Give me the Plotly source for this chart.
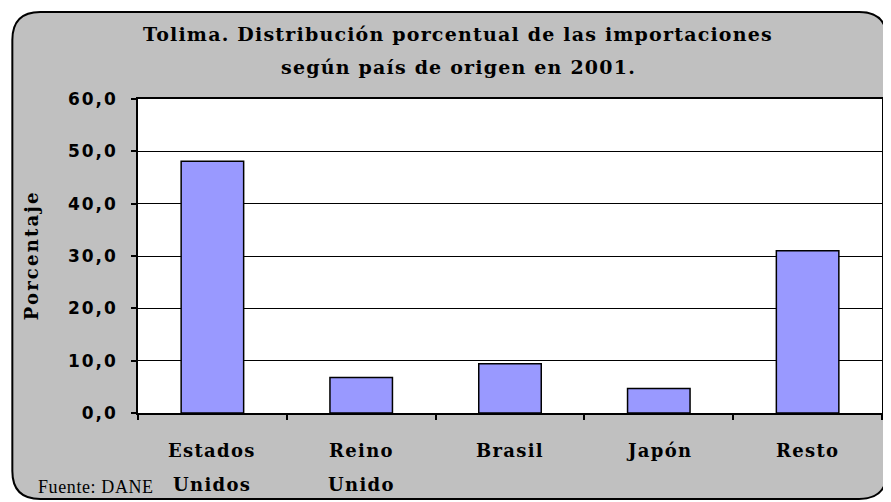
import plotly.graph_objects as go

categories = ["Estados Unidos", "Reino Unido", "Brasil", "Japón", "Resto"]
values = [48.1, 6.8, 9.4, 4.7, 31.0]
y_ticks = [0, 10, 20, 30, 40, 50, 60]
y_tick_labels = ["0,0", "10,0", "20,0", "30,0", "40,0", "50,0", "60,0"]
title_lines = ["Tolima. Distribución porcentual de las importaciones",
               "según país de origen en 2001."]
source_text = "Fuente: DANE"
y_title = "Porcentaje"

OFF = 8  # page body margin
W, H = 891 - OFF, 502 - OFF
L, R, T, B = 138 - OFF, 7, 99 - OFF, 89
PW, PH = W - L - R, H - T - B


def px(x):
    return (x - OFF - L) / PW


def py(y):
    return (H - B - (y - OFF)) / PH


def spaced(text, sp, bold=True):
    t = f"<span style='letter-spacing:{sp}px'>{text}</span>"
    return f"<b>{t}</b>" if bold else t


# rounded outer frame (screen pixel coords -> paper coords)
x0, y0, x1, y1, r = 12, 12, 889, 499, 28
path = (
    f"M {px(x0 + r)},{py(y0)} L {px(x1 - r)},{py(y0)} "
    f"Q {px(x1)},{py(y0)} {px(x1)},{py(y0 + r)} "
    f"L {px(x1)},{py(y1 - r)} Q {px(x1)},{py(y1)} {px(x1 - r)},{py(y1)} "
    f"L {px(x0 + r)},{py(y1)} Q {px(x0)},{py(y1)} {px(x0)},{py(y1 - r)} "
    f"L {px(x0)},{py(y0 + r)} Q {px(x0)},{py(y0)} {px(x0 + r)},{py(y0)} Z"
)

fig = go.Figure()
fig.add_trace(go.Bar(
    x=categories, y=values,
    marker=dict(color="#9999ff", line=dict(color="black", width=1.5)),
    width=0.42,
))

serif = "DejaVu Serif"
annotations = []
title_y = [34, 67]
for line, yy in zip(title_lines, title_y):
    annotations.append(dict(
        text=spaced(line, 1.2), x=px(459), y=py(yy), xref="paper", yref="paper",
        showarrow=False, xanchor="center", yanchor="middle",
        font=dict(family=serif, size=19, color="black"),
    ))
for cat in categories:
    words = cat.split(" ")
    for i, w in enumerate(words):
        annotations.append(dict(
            text=spaced(w, 1.3), x=cat, y=py(450 + 34 * i), xref="x", yref="paper",
            showarrow=False, xanchor="center", yanchor="middle",
            font=dict(family=serif, size=18, color="black"),
        ))
annotations.append(dict(
    text=spaced(y_title, 2.2), x=px(31), y=py(255), xref="paper", yref="paper",
    showarrow=False, textangle=-90, xanchor="center", yanchor="middle",
    font=dict(family=serif, size=18, color="black"),
))
annotations.append(dict(
    text=spaced(source_text, 0.6, bold=False), x=px(36), y=py(487),
    xref="paper", yref="paper",
    showarrow=False, xanchor="left", yanchor="middle",
    font=dict(family="Liberation Serif", size=18, color="black"),
))

fig.update_layout(
    width=W, height=H,
    margin=dict(l=L, r=R, t=T, b=B, pad=0),
    paper_bgcolor="white",
    plot_bgcolor="white",
    showlegend=False,
    annotations=annotations,
    shapes=[
        dict(type="path", path=path, xref="paper", yref="paper", layer="below",
             fillcolor="#c0c0c0", line=dict(color="black", width=2)),
        dict(type="rect", x0=0, x1=1, y0=0, y1=1, xref="paper", yref="paper",
             layer="below", fillcolor="white", line=dict(width=0)),
    ],
    xaxis=dict(
        type="category", showticklabels=False, showgrid=False,
        showline=True, linecolor="black", linewidth=1.5, mirror=True,
        ticks="outside", tickson="boundaries", ticklen=5, tickcolor="black",
        tickwidth=1.5, fixedrange=True,
    ),
    yaxis=dict(
        range=[0, 60], tickvals=y_ticks,
        ticktext=[spaced(t, 2) for t in y_tick_labels],
        showgrid=True, gridcolor="black", gridwidth=1.2,
        showline=True, linecolor="black", linewidth=1.5, mirror=True,
        ticks="outside", ticklen=5, tickcolor="black", tickwidth=1.5,
        tickfont=dict(family="DejaVu Sans", size=17, color="black"),
        ticklabelstandoff=10, zeroline=False, fixedrange=True,
    ),
)

fig.write_html("out.html")
